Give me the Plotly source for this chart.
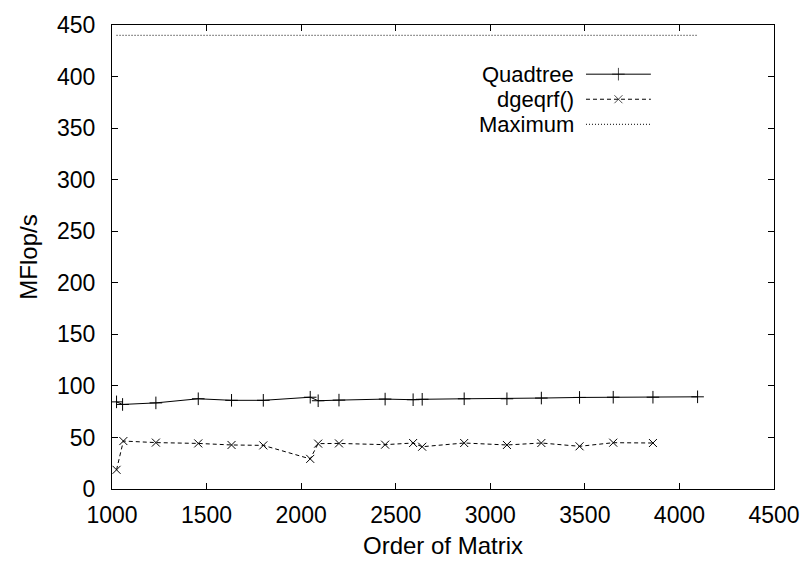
import plotly.graph_objects as go

# Data
quad_x = [1024, 1056, 1232, 1456, 1632, 1800, 2048, 2090, 2200, 2444, 2592, 2640,
          2862, 3088, 3270, 3472, 3650, 3860, 4096]
quad_y = [84.5, 82, 83.5, 87.5, 86, 86, 89, 85.6, 86.2, 87.2, 86.6, 87,
          87.5, 87.5, 88.2, 88.8, 89, 89, 89.4]

dge_x = [1024, 1060, 1232, 1456, 1632, 1800, 2048, 2090, 2200, 2444, 2592, 2640,
         2862, 3088, 3270, 3472, 3650, 3860]
dge_y = [18.6, 46.5, 45, 44.2, 42.7, 42.3, 29.2, 44, 44.2, 43, 44.6, 41,
         44.6, 42.7, 44.6, 41.4, 44.9, 44.6]

max_x = [1024, 4096]
max_y = [440, 440]

labels = ["Quadtree", "dgeqrf()", "Maximum"]
x_ticks = [1000, 1500, 2000, 2500, 3000, 3500, 4000, 4500]
y_ticks = [0, 50, 100, 150, 200, 250, 300, 350, 400, 450]

FONT = "Liberation Sans, Arial, sans-serif"
FS = 24
TICK_FS = 23
KEY_FS = 22

fig = go.Figure()
fig.add_trace(go.Scatter(x=quad_x, y=quad_y, mode="lines+markers",
                         line=dict(color="black", width=1),
                         marker=dict(symbol="cross-thin-open", size=9,
                                     line=dict(color="black", width=1)),
                         name=labels[0], showlegend=False))
fig.add_trace(go.Scatter(x=dge_x, y=dge_y, mode="lines+markers",
                         line=dict(color="black", width=1, dash="4px,3px"),
                         marker=dict(symbol="x-thin-open", size=8,
                                     line=dict(color="black", width=1)),
                         name=labels[1], showlegend=False))
fig.add_trace(go.Scatter(x=max_x, y=max_y, mode="lines",
                         line=dict(color="black", width=1, dash="1px,2px"),
                         name=labels[2], showlegend=False))

# gnuplot-style key (text left, sample right) on an overlay axis
key_x0, key_x1 = 0.716, 0.814
key_ys = [0.894, 0.840, 0.786]
key_dash = ["solid", "4px,3px", "1px,2px"]
key_sym = ["cross-thin-open", "x-thin-open", None]
for lab, ky, dsh, sym in zip(labels, key_ys, key_dash, key_sym):
    xm = (key_x0 + key_x1) / 2
    if sym:
        fig.add_trace(go.Scatter(x=[key_x0, xm, key_x1], y=[ky, ky, ky],
                                 mode="lines+markers", xaxis="x2", yaxis="y2",
                                 line=dict(color="black", width=1, dash=dsh),
                                 marker=dict(symbol=sym, size=[0, 9 if sym.startswith("cross") else 8, 0],
                                             line=dict(color="black", width=1)),
                                 showlegend=False, hoverinfo="skip"))
    else:
        fig.add_trace(go.Scatter(x=[key_x0, key_x1], y=[ky, ky],
                                 mode="lines", xaxis="x2", yaxis="y2",
                                 line=dict(color="black", width=1, dash=dsh),
                                 showlegend=False, hoverinfo="skip"))
    fig.add_annotation(x=0.699, y=ky, xref="x2", yref="y2", text=lab,
                       showarrow=False, xanchor="right", yanchor="middle",
                       borderpad=0,
                       font=dict(family=FONT, size=KEY_FS, color="black"))

axis_common = dict(showgrid=False, zeroline=False, showline=True, linecolor="black",
                   linewidth=1, mirror="ticks", ticks="inside", ticklen=6,
                   tickcolor="black", tickwidth=1,
                   tickfont=dict(family=FONT, size=TICK_FS, color="black"))

fig.update_layout(
    width=812, height=567,
    margin=dict(l=112, r=31, t=20, b=78),
    paper_bgcolor="white", plot_bgcolor="white",
    font=dict(family=FONT, size=FS, color="black"),
    xaxis=dict(range=[1000, 4500], tickvals=x_ticks, ticklabelstandoff=5,
               title=dict(text="Order of Matrix", standoff=10,
                          font=dict(family=FONT, size=FS)),
               **axis_common),
    yaxis=dict(range=[0, 450], tickvals=y_ticks, ticklabelstandoff=11,
               title=dict(text="MFlop/s", standoff=12,
                          font=dict(family=FONT, size=FS)),
               **axis_common),
    xaxis2=dict(range=[0, 1], overlaying="x", visible=False, fixedrange=True),
    yaxis2=dict(range=[0, 1], overlaying="y", visible=False, fixedrange=True),
)

fig.write_html("out.html")
